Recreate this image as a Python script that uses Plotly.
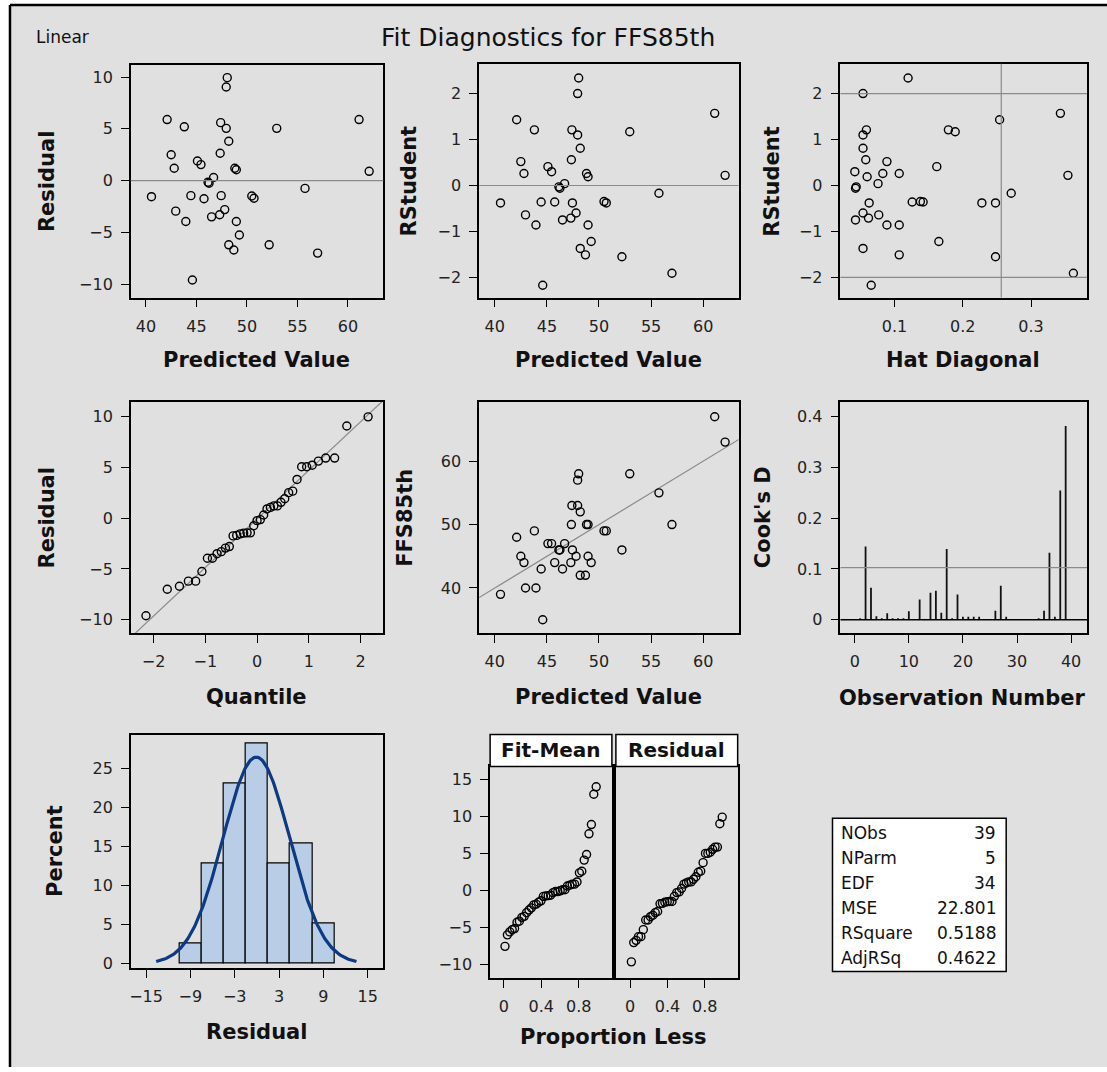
import plotly.graph_objects as go
import numpy as np
from statistics import NormalDist

W, H = 1107, 1072

# ---------------- data ----------------
predicted = [40.55, 42.10, 42.50, 42.80, 42.95, 43.80, 43.95, 44.45, 44.60, 45.10,
             45.45, 45.75, 46.25, 46.15, 46.70, 46.50, 47.30, 47.40, 47.35, 47.45,
             47.95, 47.80, 48.05, 47.95, 48.20, 48.20, 48.70, 48.95, 48.80, 48.95,
             49.25, 50.48, 50.70, 52.20, 52.95, 55.75, 57.00, 61.10, 62.10]
residual = [-1.55, 5.90, 2.50, 1.20, -2.95, 5.20, -3.95, -1.45, -9.60, 1.90,
            1.55, -1.75, -0.25, -0.15, 0.30, -3.50, -3.30, 5.60, 2.65, -1.45,
            5.05, -2.80, 9.95, 9.05, 3.80, -6.20, -6.70, -3.95, 1.20, 1.05,
            -5.25, -1.48, -1.70, -6.20, 5.05, -0.75, -7.00, 5.90, 0.90]
observed = [39, 48, 45, 44, 40, 49, 40, 43, 35, 47,
            47, 44, 46, 46, 47, 43, 44, 53, 50, 46,
            53, 45, 58, 57, 52, 42, 42, 45, 50, 50,
            44, 49, 49, 46, 58, 55, 50, 67, 63]
rstudent = [-0.38, 1.43, 0.52, 0.26, -0.64, 1.21, -0.86, -0.36, -2.17, 0.41,
            0.30, -0.36, -0.06, -0.03, 0.04, -0.75, -0.71, 1.21, 0.56, -0.38,
            1.10, -0.60, 2.34, 2.00, 0.81, -1.37, -1.51, -0.86, 0.26, 0.19,
            -1.22, -0.35, -0.38, -1.55, 1.17, -0.17, -1.91, 1.57, 0.22]
hat = [0.248, 0.254, 0.089, 0.083, 0.077, 0.179, 0.089, 0.126, 0.066, 0.162,
       0.042, 0.142, 0.043, 0.044, 0.076, 0.043, 0.062, 0.059, 0.058, 0.063,
       0.054, 0.054, 0.120, 0.054, 0.054, 0.054, 0.107, 0.107, 0.107, 0.060,
       0.165, 0.138, 0.228, 0.248, 0.189, 0.271, 0.362, 0.343, 0.354]
obs_number = list(range(1, 40))
cooks_d = [0.003, 0.144, 0.063, 0.007, 0.003, 0.013, 0.003, 0.003, 0.003, 0.017,
           0.001, 0.040, 0.001, 0.053, 0.057, 0.014, 0.139, 0.003, 0.050, 0.006,
           0.006, 0.006, 0.006, 0.001, 0.001, 0.018, 0.067, 0.006, 0.001, 0.001,
           0.001, 0.001, 0.001, 0.003, 0.018, 0.132, 0.006, 0.254, 0.381]
stat_labels = ["NObs", "NParm", "EDF", "MSE", "RSquare", "AdjRSq"]
stat_values = ["39", "5", "34", "22.801", "0.5188", "0.4622"]
n_obs, n_parm, mse = 39, 5, 22.801

# ---------------- derived quantities ----------------
res_arr = np.array(residual)
pred_arr = np.array(predicted)
n = len(residual)
nd = NormalDist()
sorted_res = np.sort(res_arr)
qq_x = [nd.inv_cdf((i + 1 - 0.375) / (n + 0.25)) for i in range(n)]
prop_less = [(i + 0.5) / n for i in range(n)]
fit_mean_sorted = np.sort(pred_arr - pred_arr.mean())
root_mse = np.sqrt(mse)
res_sd = res_arr.std(ddof=1)
res_mean = res_arr.mean()
bin_w = 3
curve_x = np.linspace(res_mean - 3 * res_sd, res_mean + 3 * res_sd, 200)
curve_y = [100 * bin_w * nd.pdf((v - res_mean) / res_sd) / res_sd for v in curve_x]
hat_cut = 2 * n_parm / n_obs
cook_cut = 4 / n_obs

FONT = "DejaVu Sans"
BLACK = "#000000"
GRAY = "#8a8a8a"

def fx(px):
    return px / W

def fy(py):
    return 1 - py / H

# panel boxes in pixels: (left, right, top, bottom)
panels = {
    1: (129, 382, 65, 299),
    2: (478, 738, 64, 299),
    3: (840, 1087, 64, 299),
    4: (129, 382, 404, 636),
    5: (478, 738, 404, 636),
    6: (840, 1087, 404, 636),
    7: (129, 382, 738, 973),
    8: (489, 611, 770, 983),
    9: (615, 737, 770, 983),
}

fig = go.Figure()
marker = dict(symbol="circle-open", size=8, color=BLACK, line=dict(width=1.4, color=BLACK))

def ax(i):
    return ("x" if i == 1 else f"x{i}"), ("y" if i == 1 else f"y{i}")

def add_pts(i, x, y):
    xa, ya = ax(i)
    fig.add_trace(go.Scatter(x=x, y=y, mode="markers", marker=marker, xaxis=xa, yaxis=ya,
                             showlegend=False, hoverinfo="x+y"))

def hline(i, y, color=GRAY, width=1.2):
    xa, ya = ax(i)
    fig.add_shape(type="line", xref=f"{xa} domain", yref=ya, x0=0, x1=1, y0=y, y1=y,
                  line=dict(color=color, width=width), layer="above")

def vline(i, x, color=GRAY, width=1.2):
    xa, ya = ax(i)
    fig.add_shape(type="line", xref=xa, yref=f"{ya} domain", x0=x, x1=x, y0=0, y1=1,
                  line=dict(color=color, width=width), layer="above")

# 1 residual vs predicted
hline(1, 0)
add_pts(1, predicted, residual)
# 2 rstudent vs predicted
hline(2, 0)
add_pts(2, predicted, rstudent)
# 3 rstudent vs hat
hline(3, 2); hline(3, -2); vline(3, hat_cut)
add_pts(3, hat, rstudent)
# 4 Q-Q
qx_line = [min(qq_x) - 1, max(qq_x) + 1]
fig.add_trace(go.Scatter(x=qx_line, y=[res_mean + root_mse * v for v in qx_line], mode="lines",
                         line=dict(color=GRAY, width=1.2), xaxis="x4", yaxis="y4",
                         showlegend=False, hoverinfo="skip"))
add_pts(4, qq_x, sorted_res)
# 5 observed vs predicted
px_line = [min(predicted) - 5, max(predicted) + 5]
fig.add_trace(go.Scatter(x=px_line, y=px_line, mode="lines", line=dict(color=GRAY, width=1.2),
                         xaxis="x5", yaxis="y5", showlegend=False, hoverinfo="skip"))
add_pts(5, predicted, observed)
# 6 Cook's D needles
nx, ny = [], []
for o, d in zip(obs_number, cooks_d):
    nx += [o, o, None]
    ny += [0, d, None]
fig.add_trace(go.Scatter(x=nx, y=ny, mode="lines", line=dict(color="#111111", width=1.8),
                         xaxis="x6", yaxis="y6", showlegend=False, hoverinfo="skip"))
hline(6, 0, color=BLACK, width=1.6)
hline(6, cook_cut)
# 7 histogram + normal curve
fig.add_trace(go.Histogram(x=residual, xbins=dict(start=-10.5, end=10.5, size=bin_w),
                           histnorm="percent", marker=dict(color="#b9cee6", line=dict(color=BLACK, width=1.2)),
                           xaxis="x7", yaxis="y7", showlegend=False))
fig.add_trace(go.Scatter(x=curve_x, y=curve_y, mode="lines", line=dict(color="#0d3a82", width=3.2),
                         xaxis="x7", yaxis="y7", showlegend=False, hoverinfo="skip"))
# 8/9 spread plots
add_pts(8, prop_less, fit_mean_sorted)
add_pts(9, prop_less, sorted_res)

# ---------------- axes ----------------
ranges = {
    1: ([38.5, 63.5], [-11.3, 11.2], dict(tick0=40, dtick=5), dict(tick0=-10, dtick=5)),
    2: ([38.5, 63.4], [-2.44, 2.65], dict(tick0=40, dtick=5), dict(tick0=-2, dtick=1)),
    3: ([0.021, 0.382], [-2.44, 2.65], dict(tick0=0.1, dtick=0.1), dict(tick0=-2, dtick=1)),
    4: ([-2.44, 2.44], [-11.3, 11.4], dict(tick0=-2, dtick=1), dict(tick0=-10, dtick=5)),
    5: ([38.5, 63.4], [32.9, 69.3], dict(tick0=40, dtick=5), dict(tick0=40, dtick=10)),
    6: ([-2.64, 42.95], [-0.026, 0.428], dict(tick0=0, dtick=10), dict(tick0=0, dtick=0.1)),
    7: ([-17.07, 17.1], [-0.6, 29.4], dict(tick0=-15, dtick=6), dict(tick0=0, dtick=5)),
    8: ([-0.146, 1.155], [-11.84, 16.8], dict(tick0=0, dtick=0.4), dict(tick0=-10, dtick=5)),
    9: ([-0.153, 1.153], [-11.84, 16.8], dict(tick0=0, dtick=0.4), dict(tick0=-10, dtick=5)),
}

axis_common = dict(showline=True, linecolor=BLACK, linewidth=1.5, mirror=True, ticks="outside",
                   ticklen=8, tickwidth=1.3, tickcolor=BLACK, showgrid=False, zeroline=False,
                   tickfont=dict(family=FONT, size=16, color="#222222"), fixedrange=True,
                   ticklabelstandoff=5)

layout_axes = {}
for i, (l, r, t, b) in panels.items():
    xr, yr, xt, yt = ranges[i]
    xa, ya = ax(i)
    xkey = "xaxis" if i == 1 else f"xaxis{i}"
    ykey = "yaxis" if i == 1 else f"yaxis{i}"
    layout_axes[xkey] = dict(axis_common, domain=[fx(l), fx(r)], range=xr, anchor=ya,
                             tickmode="linear", **xt)
    yd = dict(axis_common, domain=[fy(b), fy(t)], range=yr, anchor=xa, tickmode="linear", **yt)
    if i == 9:
        yd.update(showticklabels=False, ticks="")
    layout_axes[ykey] = yd
layout_axes["xaxis3"]["tickformat"] = ".1f"
layout_axes["yaxis6"]["tickformat"] = ".1~f"
layout_axes["xaxis8"]["tickformat"] = ".1~f"
layout_axes["xaxis9"]["tickformat"] = ".1~f"

fig.update_layout(**layout_axes)

# ---------------- background, frame, texts ----------------
shapes = [
    dict(type="rect", xref="paper", yref="paper", x0=fx(8), x1=1, y0=0, y1=fy(5),
         fillcolor="#e0e0e0", line=dict(width=0), layer="below"),
    dict(type="line", xref="paper", yref="paper", x0=fx(8), x1=fx(8), y0=0, y1=fy(5),
         line=dict(color=BLACK, width=2.5)),
    dict(type="line", xref="paper", yref="paper", x0=fx(8), x1=1, y0=fy(5), y1=fy(5),
         line=dict(color=BLACK, width=2.5)),
    # strip headers
    dict(type="rect", xref="paper", yref="paper", x0=fx(489), x1=fx(611), y0=fy(770), y1=fy(738),
         fillcolor="white", line=dict(color=BLACK, width=1.5)),
    dict(type="rect", xref="paper", yref="paper", x0=fx(615), x1=fx(737), y0=fy(770), y1=fy(738),
         fillcolor="white", line=dict(color=BLACK, width=1.5)),
    # stats table
    dict(type="rect", xref="paper", yref="paper", x0=fx(832), x1=fx(1006), y0=fy(976), y1=fy(822),
         fillcolor="white", line=dict(color=BLACK, width=1.5)),
]
for s in shapes:
    fig.add_shape(**s)

def text(x, y, s, size=16, bold=False, angle=0, xanchor="center", color="#111111"):
    fig.add_annotation(x=fx(x), y=fy(y), xref="paper", yref="paper", text=(f"<b>{s}</b>" if bold else s),
                       showarrow=False, textangle=angle, xanchor=xanchor, yanchor="middle",
                       font=dict(family=FONT, size=size, color=color))

text(547, 38, "Fit Diagnostics for FFS85th", size=25)
text(32, 37, "Linear", size=17, xanchor="left")

# axis titles
text(45, 182, "Residual", 21, True, -90)
text(408, 182, "RStudent", 21, True, -90)
text(772, 182, "RStudent", 21, True, -90)
text(255, 362, "Predicted Value", 21, True)
text(608, 362, "Predicted Value", 21, True)
text(963, 362, "Hat Diagonal", 21, True)
text(45, 520, "Residual", 21, True, -90)
text(403, 520, "FFS85th", 21, True, -90)
text(762, 520, "Cook's D", 21, True, -90)
text(255, 700, "Quantile", 21, True)
text(608, 700, "Predicted Value", 21, True)
text(962, 701, "Observation Number", 21, True)
text(53, 855, "Percent", 21, True, -90)
text(255, 1037, "Residual", 21, True)
text(613, 1042, "Proportion Less", 21, True)
text(550, 754, "Fit-Mean", 20, True)
text(676, 754, "Residual", 20, True)

row_y = [837, 862, 887, 912, 937, 962]
for lab, val, yy in zip(stat_labels, stat_values, row_y):
    text(839, yy, lab, 17, xanchor="left")
    text(998, yy, val, 17, xanchor="right")

fig.update_layout(width=W, height=H, autosize=False, margin=dict(l=0, r=0, t=0, b=0),
                  paper_bgcolor="white", plot_bgcolor="white", showlegend=False,
                  bargap=0, font=dict(family=FONT))

fig.write_html("out.html", config={"displayModeBar": False},
               post_script="document.body.style.margin='0';document.body.style.overflow='hidden';")
